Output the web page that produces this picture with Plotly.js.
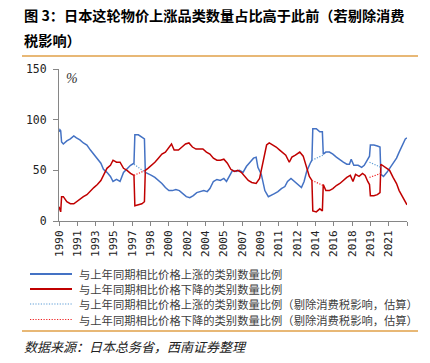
<!DOCTYPE html>
<html><head><meta charset="utf-8">
<script src="https://cdn.plot.ly/plotly-3.0.1.min.js"></script>
<style>html,body{margin:0;padding:0;background:#fff}#chart{width:430px;height:363px}</style>
</head><body><div id="chart"></div>
<script>
// 与上年同期相比价格上涨的类别数量比例 (%)
const blueDates = ["1990-01","1990-02","1990-03","1990-04","1990-06","1990-10","1991-02","1991-06","1991-09","1992-01","1992-05","1992-09","1993-01","1993-05","1993-09","1994-01","1994-04","1994-08","1994-12","1995-03","1995-07","1995-11","1996-03","1996-07","1996-11","1997-03","1997-04","1997-08","1997-12","1998-03","1998-04","1998-07","1998-11","1999-03","1999-07","1999-11","2000-03","2000-07","2000-11","2001-03","2001-07","2001-11","2002-03","2002-07","2002-11","2003-03","2003-07","2003-11","2004-03","2004-06","2004-10","2005-02","2005-06","2005-10","2006-01","2006-04","2006-08","2006-12","2007-04","2007-08","2007-12","2008-04","2008-08","2008-11","2009-01","2009-05","2009-09","2010-01","2010-04","2010-08","2010-12","2011-04","2011-08","2011-11","2012-03","2012-07","2012-11","2013-03","2013-06","2013-09","2014-01","2014-03","2014-04","2014-08","2014-12","2015-03","2015-04","2015-07","2015-11","2016-03","2016-07","2016-11","2017-03","2017-07","2017-10","2017-12","2018-03","2018-08","2018-12","2019-03","2019-06","2019-09","2019-10","2020-02","2020-06","2020-09","2020-10","2021-01","2021-05","2021-08","2021-12","2022-04","2022-07","2022-11","2023-02","2023-04"];
const blueValues = [88,90,89,78,76,79,81,84,82,80,77,75,70,66,62,57,51,48,44,39,41,39,48,52,55,57,85,85,83,81,48,47,45,43,40,37,33,30,30,31,30,27,24,23,25,28,29,30,29,32,39,41,40,42,39,44,50,49,50,48,54,58,62,63,53,46,30,24,25,27,29,32,34,39,42,39,35,33,39,49,57,60,91,91,88,88,66,68,68,66,63,60,58,56,56,61,55,55,53,55,60,64,75,75,74,73,46,44,48,52,57,62,68,76,81,82];

// 与上年同期相比价格下降的类别数量比例 (%)
const redDates = ["1990-01","1990-02","1990-03","1990-04","1990-06","1990-10","1991-02","1991-06","1991-09","1992-01","1992-05","1992-09","1993-01","1993-05","1993-09","1994-01","1994-04","1994-08","1994-12","1995-03","1995-07","1995-11","1996-03","1996-07","1996-11","1997-03","1997-04","1997-08","1997-12","1998-03","1998-04","1998-07","1998-11","1999-03","1999-07","1999-11","2000-03","2000-07","2000-10","2001-01","2001-06","2001-10","2002-02","2002-06","2002-10","2003-02","2003-06","2003-10","2004-02","2004-06","2004-10","2005-02","2005-06","2005-10","2006-02","2006-06","2006-10","2007-02","2007-06","2007-10","2008-02","2008-06","2008-11","2009-03","2009-07","2009-11","2010-02","2010-06","2010-10","2011-02","2011-06","2011-09","2012-01","2012-04","2012-08","2013-01","2013-05","2013-09","2013-12","2014-03","2014-04","2014-08","2014-12","2015-03","2015-04","2015-07","2015-11","2016-03","2016-07","2016-11","2017-03","2017-07","2017-11","2018-02","2018-05","2018-09","2019-01","2019-04","2019-07","2019-09","2019-10","2020-02","2020-06","2020-09","2020-10","2021-01","2021-05","2021-08","2021-12","2022-04","2022-07","2022-11","2023-02","2023-04"];
const redValues = [14,10,9,24,24,19,17,17,19,21,24,26,30,33,36,40,45,52,55,60,58,58,52,50,47,45,15,16,17,19,50,52,55,58,62,66,68,73,76,70,70,73,76,77,73,71,71,71,68,66,62,60,60,61,57,51,49,50,48,44,40,38,37,42,58,75,77,75,73,70,67,65,58,63,65,68,64,52,44,40,10,9,12,10,36,30,30,32,35,37,40,43,45,39,46,44,47,45,39,36,25,25,26,28,56,54,52,50,43,37,30,23,18,16];

// 剔除消费税影响（估算）
const blueEstDates = ["1997-03","1998-04",null,"2014-03","2015-04",null,"2019-09","2020-10"];
const blueEstValues = [56,48,null,60,65,null,58,53];
const redEstDates = ["1997-03","1998-04",null,"2014-03","2015-04",null,"2019-09","2020-10"];
const redEstValues = [45,50,null,40,35,null,43,47];

const tickDates = ["1990-01","1991-10","1993-07","1995-04","1997-01","1998-10","2000-07","2002-04","2004-01","2005-10","2007-07","2009-04","2011-01","2012-10","2014-07","2016-04","2018-01","2019-10","2021-07","2023-04"];
const tickLabels = ["1990","1991","1993","1995","1997","1998","2000","2002","2004","2005","2007","2009","2011","2012","2014","2016","2018","2019","2021",""];

const seriesNames = ["与上年同期相比价格上涨的类别数量比例","与上年同期相比价格下降的类别数量比例","与上年同期相比价格上涨的类别数量比例（剔除消费税影响，估算）","与上年同期相比价格下降的类别数量比例（剔除消费税影响，估算）"];
const colors = ["#4472C4","#C00000","#5B9BD5","#F02020"];
const dashes = ["solid","solid","1.2px,1.5px","1.2px,1.5px"];
const widths = [1.5,1.5,1.2,1.2];

const W = 430, H = 363, L = 59, R = 23, T = 69, B = 142;
const px2x = p => (p - L) / (W - L - R);
const py2y = p => (H - B - p) / (H - T - B);

const traces = [
  {x: blueDates, y: blueValues, type: 'scatter', mode: 'lines', name: seriesNames[0], line: {color: colors[0], width: widths[0]}, showlegend: false},
  {x: redDates, y: redValues, type: 'scatter', mode: 'lines', name: seriesNames[1], line: {color: colors[1], width: widths[1]}, showlegend: false},
  {x: blueEstDates, y: blueEstValues, type: 'scatter', mode: 'lines', name: seriesNames[2], line: {color: colors[2], width: widths[2], dash: dashes[2]}, connectgaps: false, showlegend: false},
  {x: redEstDates, y: redEstValues, type: 'scatter', mode: 'lines', name: seriesNames[3], line: {color: colors[3], width: widths[3], dash: dashes[3]}, connectgaps: false, showlegend: false}
];

const cjk = '"Noto Sans CJK SC", "Noto Sans", sans-serif';
const mono = '"DejaVu Sans Mono", monospace';
const orange = '#E0A048';

const legendRows = [274, 289, 304, 319.5];
const shapes = [
  {type: 'line', xref: 'paper', yref: 'paper', x0: px2x(22), x1: px2x(418), y0: py2y(56), y1: py2y(56), line: {color: orange, width: 1.5}},
  {type: 'line', xref: 'paper', yref: 'paper', x0: px2x(22), x1: px2x(418), y0: py2y(331), y1: py2y(331), line: {color: orange, width: 1.5}}
];
const annotations = [
  {xref: 'paper', yref: 'paper', x: px2x(22), y: py2y(15), xanchor: 'left', yanchor: 'middle', showarrow: false,
   text: '<b>图 3：日本这轮物价上涨品类数量占比高于此前（若剔除消费</b>', font: {family: cjk, size: 14.2, color: '#000'}},
  {xref: 'paper', yref: 'paper', x: px2x(22), y: py2y(40), xanchor: 'left', yanchor: 'middle', showarrow: false,
   text: '<b>税影响）</b>', font: {family: cjk, size: 14.2, color: '#000'}},
  {xref: 'paper', yref: 'paper', x: px2x(64), y: py2y(78), xanchor: 'left', yanchor: 'middle', showarrow: false,
   text: '<i>%</i>', font: {family: '"Liberation Serif", serif', size: 14, color: '#333'}},
  {xref: 'paper', yref: 'paper', x: px2x(22), y: py2y(346), xanchor: 'left', yanchor: 'middle', showarrow: false,
   text: '<i>数据来源：日本总务省，西南证券整理</i>', font: {family: cjk, size: 13, color: '#222'}}
];
seriesNames.forEach((nm, i) => {
  shapes.push({type: 'line', xref: 'paper', yref: 'paper', x0: px2x(30), x1: px2x(72), y0: py2y(legendRows[i]), y1: py2y(legendRows[i]),
    line: {color: colors[i], width: i < 2 ? 2 : 1.2, dash: dashes[i]}});
  annotations.push({xref: 'paper', yref: 'paper', x: px2x(77), y: py2y(legendRows[i]), xanchor: 'left', yanchor: 'middle', showarrow: false,
    text: nm, font: {family: cjk, size: 11.3, color: '#404040'}});
});

const layout = {
  width: W, height: H,
  margin: {l: L, r: R, t: T, b: B, pad: 0},
  paper_bgcolor: '#fff', plot_bgcolor: '#fff',
  showlegend: false,
  xaxis: {
    type: 'date', range: ['1990-01-01', '2023-04-01'],
    tickmode: 'array', tickvals: tickDates, ticktext: tickLabels,
    tickangle: -90, ticks: 'outside', ticklen: 4, tickcolor: '#868686', tickwidth: 1,
    showline: true, linecolor: '#868686', linewidth: 1, showgrid: false, zeroline: false,
    tickfont: {family: mono, size: 11, color: '#222'}
  },
  yaxis: {
    range: [0, 150], tickmode: 'array', tickvals: [0, 50, 100, 150],
    ticks: 'outside', ticklen: 5, tickcolor: '#868686', tickwidth: 1,
    showline: true, linecolor: '#868686', linewidth: 1, showgrid: false, zeroline: false,
    tickfont: {family: mono, size: 11.5, color: '#222'}, ticklabelstandoff: 4
  },
  shapes: shapes,
  annotations: annotations
};

Plotly.newPlot('chart', traces, layout, {staticPlot: true, displayModeBar: false});
</script>
</body></html>
